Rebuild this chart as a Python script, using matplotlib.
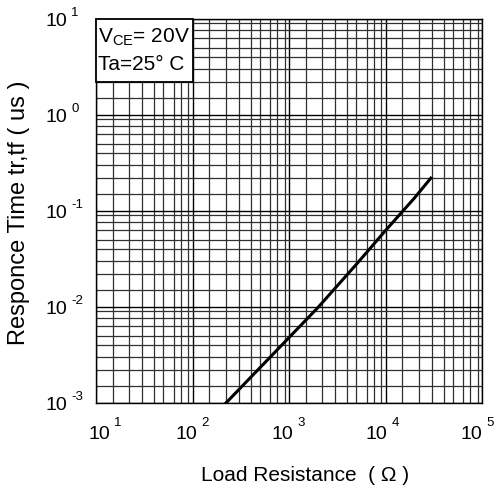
import matplotlib
matplotlib.use("Agg")
import matplotlib.pyplot as plt
from matplotlib.patches import Rectangle
from matplotlib.ticker import FixedLocator, NullFormatter
from matplotlib.transforms import offset_copy

plt.rcParams['font.family'] = ['Liberation Sans', 'DejaVu Sans']
plt.rcParams['mathtext.fontset'] = 'custom'
plt.rcParams['mathtext.rm'] = 'Liberation Sans'
plt.rcParams['mathtext.it'] = 'Liberation Sans:italic'
plt.rcParams['mathtext.bf'] = 'Liberation Sans:bold'

# data
load_resistance = [222, 500, 1000, 2000, 5000, 10000, 20000, 29500]
response_time = [1.0e-3, 2.33e-3, 4.8e-3, 9.9e-3, 0.0279, 0.0626, 0.137, 0.22]

x_ticks = [1e1, 1e2, 1e3, 1e4, 1e5]
x_exponents = ['1', '2', '3', '4', '5']
y_ticks = [1e-3, 1e-2, 1e-1, 1e0, 1e1]
y_exponents = ['-3', '-2', '-1', '0', '1']
minor_mult = [1.5, 2.2, 3, 4, 5, 6.4, 7.6, 9]

# per-label horizontal nudge (pixels) of the x tick labels, as in the reference
x_label_shift = [14, 5, 4, 2, 0]

fig = plt.figure(figsize=(4.95, 4.90), dpi=100)
ax = fig.add_axes([96/495, 1 - 403/490, 386/495, 384/490])
ax.set_xscale('log')
ax.set_yscale('log')
ax.set_xlim(1e1, 1e5)
ax.set_ylim(1e-3, 1e1)

xminor = [m * 10**e for e in range(1, 5) for m in minor_mult]
yminor = [m * 10**e for e in range(-3, 1) for m in minor_mult]
ax.xaxis.set_major_locator(FixedLocator(x_ticks))
ax.yaxis.set_major_locator(FixedLocator(y_ticks))
ax.xaxis.set_minor_locator(FixedLocator(xminor))
ax.yaxis.set_minor_locator(FixedLocator(yminor))
for a in (ax.xaxis, ax.yaxis):
    a.set_major_formatter(NullFormatter())
    a.set_minor_formatter(NullFormatter())

ax.grid(which='major', color='black', linewidth=1.0)
ax.grid(which='minor', color='#303030', linewidth=0.9)
ax.tick_params(which='both', length=0)
for s in ax.spines.values():
    s.set_color('black')
    s.set_linewidth(1.0)

ax.plot(load_resistance, response_time, color='black', linewidth=2.2, zorder=5)

# tick labels: "10" with a detached superscript exponent
xtrans = ax.get_xaxis_transform()
for t, e, dx in zip(x_ticks, x_exponents, x_label_shift):
    ax.text(t, 0, '10', transform=offset_copy(xtrans, fig=fig, x=dx, y=-36, units='dots'),
            ha='right', va='baseline', fontsize=14, clip_on=False)
    ax.text(t, 0, e, transform=offset_copy(xtrans, fig=fig, x=dx + 4, y=-23, units='dots'),
            ha='left', va='baseline', fontsize=9.5, clip_on=False)
ytrans = ax.get_yaxis_transform()
for t, e in zip(y_ticks, y_exponents):
    ax.text(0, t, '10', transform=offset_copy(ytrans, fig=fig, x=-29, y=-7, units='dots'),
            ha='right', va='baseline', fontsize=14, clip_on=False)
    ax.text(0, t, e, transform=offset_copy(ytrans, fig=fig, x=-25, y=3, units='dots'),
            ha='left', va='baseline', fontsize=9.5, clip_on=False)

# condition box
ax.add_patch(Rectangle((0, 1 - 63/384), 97/386, 63/384, transform=ax.transAxes,
                       facecolor='white', edgecolor='black', linewidth=1.3, zorder=10,
                       clip_on=False))
ax.text(2/386, 1 - 18/384, r'V$_{\mathregular{CE}}$= 20V', transform=ax.transAxes,
        fontsize=15, va='center', ha='left', zorder=11)
ax.text(2/386, 1 - 46/384, 'Ta=25° C', transform=ax.transAxes,
        fontsize=15, va='center', ha='left', zorder=11)

fig.text(305/495, 1 - 475/490, 'Load Resistance  ( Ω )', fontsize=15, ha='center', va='center')
fig.text(19/495, 1 - 213/490, 'Responce Time tr,tf ( us )', fontsize=17, ha='center',
         va='center', rotation=90)

fig.savefig('out.png', dpi=100)
